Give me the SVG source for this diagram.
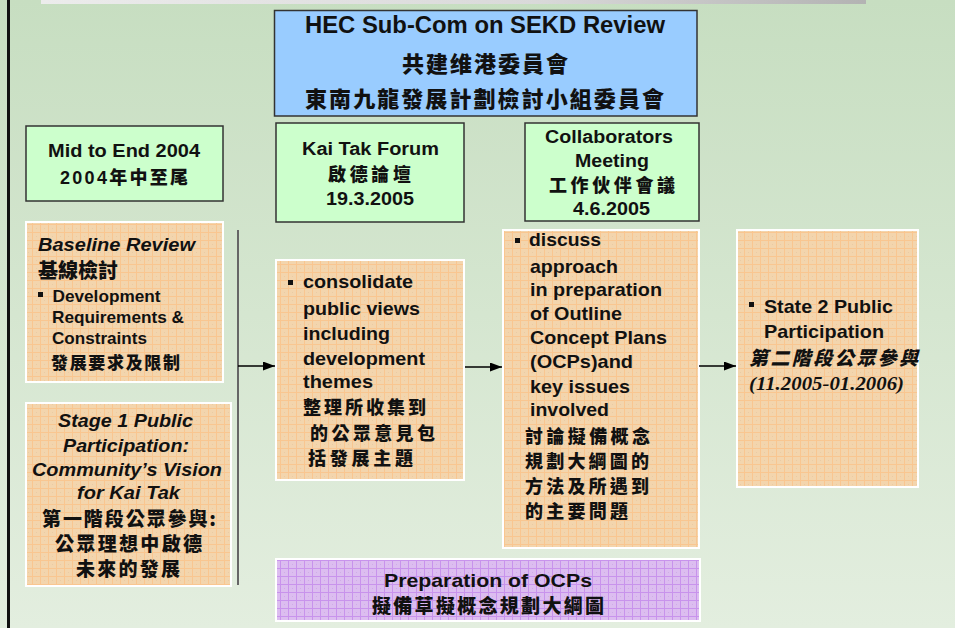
<svg xmlns="http://www.w3.org/2000/svg" width="955" height="628" viewBox="0 0 955 628">
<defs>
<linearGradient id="bg" x1="0" y1="0" x2="0" y2="1">
<stop offset="0" stop-color="#c7dec1"/>
<stop offset="1" stop-color="#e3eedf"/>
</linearGradient>
<linearGradient id="bar" x1="0" y1="0" x2="1" y2="0">
<stop offset="0" stop-color="#ececec"/>
<stop offset="0.6" stop-color="#d9d9d9"/>
<stop offset="1" stop-color="#b3b3b3"/>
</linearGradient>
<pattern id="orange" width="8" height="8" patternUnits="userSpaceOnUse">
<rect width="8" height="8" fill="#f3d5ad"/>
<path d="M0 0.5H8M0.5 0V8" stroke="#f9c690" stroke-width="1"/>
<rect x="4" y="4" width="1" height="1" fill="#eacba4"/>
</pattern>
<pattern id="purple" width="8" height="8" patternUnits="userSpaceOnUse">
<rect width="8" height="8" fill="#dcbdf0"/>
<path d="M0 0.5H8M0.5 0V8" stroke="#c893ec" stroke-width="1"/>
<rect x="4" y="4" width="1" height="1" fill="#cfaee6"/>
</pattern>
<marker id="arr" markerWidth="13" markerHeight="9" refX="12" refY="4.5" orient="auto" markerUnits="userSpaceOnUse">
<path d="M0 0L12 4.5L0 9Z" fill="#000"/>
</marker>
<style>
.green{fill:#ccffcc;stroke:#333;stroke-width:1.5}
.blue{fill:#99ccff;stroke:#333;stroke-width:1.5}
.org{fill:url(#orange);stroke:#fff;stroke-width:2}
.pur{fill:url(#purple);stroke:#fff;stroke-width:2}
.en{font-family:"Liberation Sans",Arial,sans-serif;font-weight:bold;fill:#111}
.it{font-style:italic}
.zh{font-family:"Noto Sans CJK TC","Noto Sans CJK SC",sans-serif;font-weight:900;fill:#111}
.se{font-family:"Liberation Serif","Times New Roman",serif;font-weight:bold;font-style:italic;fill:#111}
.bul{fill:#111}
.con{stroke:#000;stroke-width:1.5;fill:none}
</style>
</defs>
<rect width="955" height="628" fill="url(#bg)"/>
<rect x="41" y="0" width="825" height="4" fill="url(#bar)"/>
<rect x="7" y="0" width="3" height="628" fill="#111"/>

<g id="hec">
<rect class="blue" x="274.5" y="10.5" width="422.5" height="105.5"/>
<text class="en" x="305" y="33" font-size="23" textLength="360" lengthAdjust="spacingAndGlyphs">HEC Sub-Com on SEKD Review</text>
<text class="zh" x="402" y="72" font-size="22" textLength="166" lengthAdjust="spacing">共建维港委員會</text>
<text class="zh" x="305" y="107" font-size="22" textLength="359" lengthAdjust="spacing">東南九龍發展計劃檢討小組委員會</text>
</g>

<g id="mid2004">
<rect class="green" x="26" y="126" width="197" height="75"/>
<text class="en" x="48" y="157" font-size="18" textLength="152" lengthAdjust="spacingAndGlyphs">Mid to End 2004</text>
<text class="en" x="60" y="184" font-size="18" textLength="128" lengthAdjust="spacing">2004<tspan class="zh">年中至尾</tspan></text>
</g>

<g id="baseline">
<rect class="org" x="26" y="222" width="197" height="160"/>
<text class="en it" x="38" y="251" font-size="19" textLength="157" lengthAdjust="spacingAndGlyphs">Baseline Review</text>
<text class="zh" x="38" y="278" font-size="20" textLength="80" lengthAdjust="spacing">基線檢討</text>
<rect class="bul" x="38" y="292" width="5" height="5"/>
<text class="en" x="52.5" y="302" font-size="17" textLength="108" lengthAdjust="spacingAndGlyphs">Development</text>
<text class="en" x="52" y="323" font-size="17" textLength="132" lengthAdjust="spacingAndGlyphs">Requirements &amp;</text>
<text class="en" x="52" y="344" font-size="17" textLength="95" lengthAdjust="spacingAndGlyphs">Constraints</text>
<text class="zh" x="51" y="369" font-size="17" textLength="129" lengthAdjust="spacing">發展要求及限制</text>
</g>

<g id="stage1">
<rect class="org" x="26" y="403" width="205" height="183"/>
<text class="en it" x="58" y="427" font-size="19" textLength="135" lengthAdjust="spacingAndGlyphs">Stage 1 Public</text>
<text class="en it" x="63" y="452" font-size="19" textLength="126" lengthAdjust="spacingAndGlyphs">Participation:</text>
<text class="en it" x="32" y="476" font-size="19" textLength="190" lengthAdjust="spacingAndGlyphs">Community’s Vision</text>
<text class="en it" x="77" y="499" font-size="19" textLength="103" lengthAdjust="spacingAndGlyphs">for Kai Tak</text>
<text class="zh" x="42" y="526" font-size="19" textLength="174" lengthAdjust="spacing">第一階段公眾參與:</text>
<text class="zh" x="55" y="551" font-size="19" textLength="147" lengthAdjust="spacing">公眾理想中啟德</text>
<text class="zh" x="76" y="576" font-size="19" textLength="104" lengthAdjust="spacing">未來的發展</text>
</g>

<g id="forum">
<rect class="green" x="276" y="123" width="188" height="99"/>
<text class="en" x="302" y="155" font-size="18" textLength="137" lengthAdjust="spacingAndGlyphs">Kai Tak Forum</text>
<text class="zh" x="328" y="181" font-size="18" textLength="83" lengthAdjust="spacing">啟德論壇</text>
<text class="en" x="326" y="205" font-size="18" textLength="88" lengthAdjust="spacingAndGlyphs">19.3.2005</text>
</g>

<g id="consolidate">
<rect class="org" x="276" y="260" width="188" height="220"/>
<rect class="bul" x="288" y="280" width="5" height="5"/>
<text class="en" x="303" y="288" font-size="19" textLength="110" lengthAdjust="spacingAndGlyphs">consolidate</text>
<text class="en" x="303" y="315" font-size="19" textLength="117" lengthAdjust="spacingAndGlyphs">public views</text>
<text class="en" x="303" y="340" font-size="19" textLength="87" lengthAdjust="spacingAndGlyphs">including</text>
<text class="en" x="303" y="365" font-size="19" textLength="122" lengthAdjust="spacingAndGlyphs">development</text>
<text class="en" x="303" y="388" font-size="19" textLength="70" lengthAdjust="spacingAndGlyphs">themes</text>
<text class="zh" x="303" y="414" font-size="18" textLength="123" lengthAdjust="spacing">整理所收集到</text>
<text class="zh" x="310" y="440" font-size="18" textLength="125" lengthAdjust="spacing">的公眾意見包</text>
<text class="zh" x="308" y="465" font-size="18" textLength="105" lengthAdjust="spacing">括發展主題</text>
</g>

<g id="collab">
<rect class="green" x="525" y="123" width="174" height="98"/>
<text class="en" x="545" y="143" font-size="18" textLength="128" lengthAdjust="spacingAndGlyphs">Collaborators</text>
<text class="en" x="575" y="167" font-size="18" textLength="74" lengthAdjust="spacingAndGlyphs">Meeting</text>
<text class="zh" x="549" y="192" font-size="18" textLength="126" lengthAdjust="spacing">工作伙伴會議</text>
<text class="en" x="573" y="215" font-size="18" textLength="77" lengthAdjust="spacingAndGlyphs">4.6.2005</text>
</g>

<g id="discuss">
<rect class="org" x="503" y="230" width="196" height="318"/>
<rect class="bul" x="515" y="238" width="5" height="5"/>
<text class="en" x="529" y="246" font-size="19" textLength="72" lengthAdjust="spacingAndGlyphs">discuss</text>
<text class="en" x="530" y="273" font-size="19" textLength="88" lengthAdjust="spacingAndGlyphs">approach</text>
<text class="en" x="530" y="296" font-size="19" textLength="132" lengthAdjust="spacingAndGlyphs">in preparation</text>
<text class="en" x="530" y="320" font-size="19" textLength="92" lengthAdjust="spacingAndGlyphs">of Outline</text>
<text class="en" x="530" y="344" font-size="19" textLength="137" lengthAdjust="spacingAndGlyphs">Concept Plans</text>
<text class="en" x="530" y="368" font-size="19" textLength="103" lengthAdjust="spacingAndGlyphs">(OCPs)and</text>
<text class="en" x="530" y="393" font-size="19" textLength="100" lengthAdjust="spacingAndGlyphs">key issues</text>
<text class="en" x="530" y="416" font-size="19" textLength="79" lengthAdjust="spacingAndGlyphs">involved</text>
<text class="zh" x="525" y="443" font-size="18" textLength="125" lengthAdjust="spacing">討論擬備概念</text>
<text class="zh" x="525" y="468" font-size="18" textLength="124" lengthAdjust="spacing">規劃大綱圖的</text>
<text class="zh" x="525" y="493" font-size="18" textLength="124" lengthAdjust="spacing">方法及所遇到</text>
<text class="zh" x="525" y="518" font-size="18" textLength="103" lengthAdjust="spacing">的主要問題</text>
</g>

<g id="stage2">
<rect class="org" x="737" y="230" width="181" height="257"/>
<rect class="bul" x="749" y="302" width="5" height="5"/>
<text class="en" x="764" y="313" font-size="19" textLength="129" lengthAdjust="spacingAndGlyphs">State 2 Public</text>
<text class="en" x="764" y="338" font-size="19" textLength="120" lengthAdjust="spacingAndGlyphs">Participation</text>
<text class="zh it" x="749" y="365" font-size="19" textLength="169" lengthAdjust="spacing">第二階段公眾參與</text>
<text class="se" x="749" y="390" font-size="19" textLength="155" lengthAdjust="spacingAndGlyphs">(11.2005-01.2006)</text>
</g>

<g id="ocps">
<rect class="pur" x="276" y="559" width="424" height="62"/>
<text class="en" x="384" y="587" font-size="19" textLength="208" lengthAdjust="spacingAndGlyphs">Preparation of OCPs</text>
<text class="zh" x="372" y="613" font-size="19" textLength="232" lengthAdjust="spacing">擬備草擬概念規劃大綱圖</text>
</g>

<g id="connectors">
<line x1="238" y1="230" x2="238" y2="585" stroke="#666" stroke-width="2"/>
<line class="con" x1="238" y1="366" x2="275" y2="366" marker-end="url(#arr)"/>
<line class="con" x1="465" y1="367" x2="502" y2="367" marker-end="url(#arr)"/>
<line class="con" x1="699" y1="366" x2="736" y2="366" marker-end="url(#arr)"/>
</g>
</svg>
